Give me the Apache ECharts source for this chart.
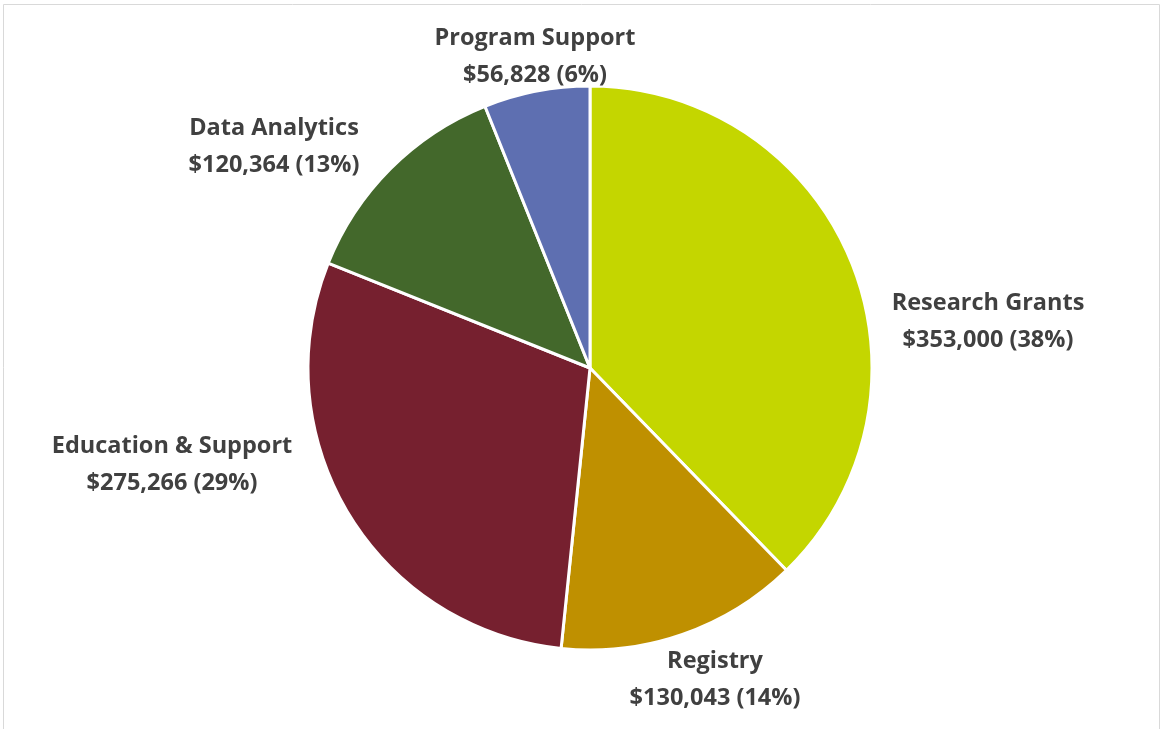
<!DOCTYPE html>
<html><head><meta charset="utf-8">
<script src="https://cdn.jsdelivr.net/npm/echarts@6/dist/echarts.min.js"></script>
<style>html,body{margin:0;padding:0;background:#fff}#c{width:1164px;height:729px}</style>
</head><body><div id="c"></div>
<script>
const categories = ['Research Grants', 'Registry', 'Education & Support', 'Data Analytics', 'Program Support'];
const values = [353000, 130043, 275266, 120364, 56828];
const colors = ['#C4D600', '#BF9000', '#76202F', '#43682B', '#5E6FB1'];
// label anchor points (layout, not data)
const labelAnchors = [[988, 322], [715, 680], [172, 465], [274, 147], [535, 57]];

const chart = echarts.init(document.getElementById('c'));
chart.setOption({
  animation: false,
  graphic: [{
    type: 'rect', shape: {x: 3.5, y: 4.5, width: 1156, height: 740},
    style: {fill: 'none', stroke: '#D9D9D9', lineWidth: 1}, silent: true
  }],
  series: [{
    type: 'pie',
    center: [590, 368],
    radius: 282,
    startAngle: 90,
    clockwise: true,
    percentPrecision: 0,
    data: categories.map((c, i) => ({name: c, value: values[i], itemStyle: {color: colors[i]}})),
    itemStyle: {borderColor: '#fff', borderWidth: 3},
    label: {
      show: true,
      position: 'outside',
      formatter: p => p.name + '\n$' + p.value.toLocaleString('en-US') + ' (' + Math.round(p.percent) + '%)',
      fontFamily: 'Open Sans',
      fontWeight: 'bold',
      fontSize: 23.5,
      lineHeight: 37,
      color: '#404040',
      align: 'center'
    },
    labelLine: {show: false},
    labelLayout: p => ({x: labelAnchors[p.dataIndex][0], y: labelAnchors[p.dataIndex][1], align: 'center', verticalAlign: 'middle'})
  }]
});
</script></body></html>
